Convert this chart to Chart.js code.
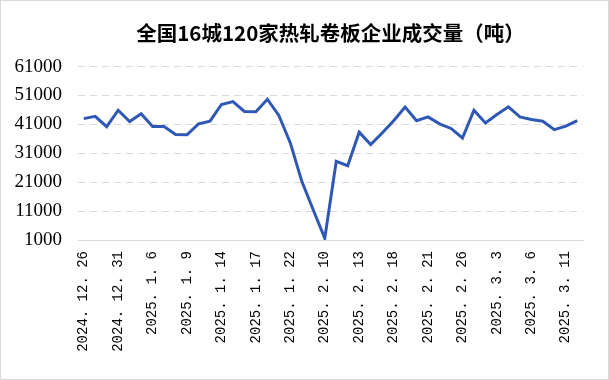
<!DOCTYPE html>
<html>
<head>
<meta charset="utf-8">
<script src="https://cdn.jsdelivr.net/npm/chart.js@4.4.1/dist/chart.umd.min.js"></script>
<style>
  html, body { margin: 0; padding: 0; background: #fff; }
  #wrap { position: absolute; left: 0; top: 0; width: 607px; height: 378px; border: 1px solid #d9d9d9; }
  canvas { display: block; }
</style>
</head>
<body>
<div id="wrap"><canvas id="c" width="607" height="378"></canvas></div>
<script>
const titleText = '全国16城120家热轧卷板企业成交量（吨）';

const dates = [
  '2024. 12. 26', '2024. 12. 27', '2024. 12. 30', '2024. 12. 31',
  '2025. 1. 2', '2025. 1. 3', '2025. 1. 6', '2025. 1. 7', '2025. 1. 8', '2025. 1. 9',
  '2025. 1. 10', '2025. 1. 13', '2025. 1. 14', '2025. 1. 15', '2025. 1. 16', '2025. 1. 17',
  '2025. 1. 20', '2025. 1. 21', '2025. 1. 22', '2025. 1. 23', '2025. 1. 24',
  '2025. 2. 10', '2025. 2. 11', '2025. 2. 12', '2025. 2. 13', '2025. 2. 14',
  '2025. 2. 17', '2025. 2. 18', '2025. 2. 19', '2025. 2. 20', '2025. 2. 21',
  '2025. 2. 24', '2025. 2. 25', '2025. 2. 26', '2025. 2. 27', '2025. 2. 28',
  '2025. 3. 3', '2025. 3. 4', '2025. 3. 5', '2025. 3. 6', '2025. 3. 7',
  '2025. 3. 10', '2025. 3. 11', '2025. 3. 12'
];

const volumes = [
  43000, 43800, 40200, 45900, 42000, 44700, 40300, 40300, 37500, 37400,
  41200, 42100, 47900, 48900, 45500, 45400, 49700, 44100, 34600, 21300,
  11400, 1600, 28200, 26700, 38300, 34000, 38000, 42300, 47000, 42300,
  43600, 41200, 39600, 36300, 45900, 41500, 44400, 47100, 43600, 42700,
  42100, 39200, 40400, 42300
];

const yTicks = [1000, 11000, 21000, 31000, 41000, 51000, 61000];
const labelEvery = 3;

new Chart(document.getElementById('c'), {
  type: 'line',
  data: {
    labels: dates,
    datasets: [{
      data: volumes,
      borderColor: '#2f58b6',
      borderWidth: 3,
      pointRadius: 0,
      tension: 0,
      fill: false
    }]
  },
  options: {
    responsive: false,
    animation: false,
    layout: { padding: { left: 0, right: 25, top: 0, bottom: 0 } },
    plugins: {
      legend: { display: false },
      tooltip: { enabled: false },
      title: {
        display: true,
        text: titleText,
        fullSize: false,
        color: '#000',
        font: { family: '"Noto Sans CJK SC", sans-serif', size: 20.5, weight: 'bold', lineHeight: 1.2 },
        padding: { top: 20, bottom: 21 }
      }
    },
    scales: {
      x: {
        offset: true,
        grid: { display: false, drawTicks: false },
        border: { display: true, color: '#d9d9d9', width: 1 },
        ticks: {
          autoSkip: false,
          maxRotation: 90,
          minRotation: 90,
          padding: 11,
          color: '#000',
          font: { family: '"Liberation Mono", monospace', size: 14 },
          callback: function (v, i) { return i % labelEvery === 0 ? dates[i] : ''; }
        },
        afterFit: function (s) { s.height = 139; }
      },
      y: {
        min: yTicks[0],
        max: yTicks[yTicks.length - 1],
        grid: { color: '#d9d9d9', lineWidth: 1, drawTicks: false },
        border: { display: false, dash: [7, 5] },
        afterBuildTicks: function (s) { s.ticks = yTicks.map(v => ({ value: v })); },
        ticks: {
          padding: 16,
          color: '#000',
          font: { family: '"Liberation Serif", serif', size: 19 },
          callback: function (v) { return String(v); }
        },
        afterFit: function (s) { s.width = 77; }
      }
    }
  }
});
</script>
</body>
</html>
